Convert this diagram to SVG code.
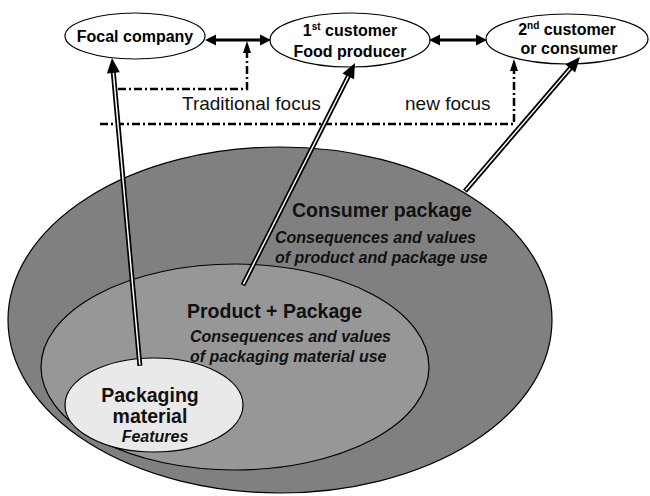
<svg xmlns="http://www.w3.org/2000/svg" width="650" height="496" viewBox="0 0 650 496">
  <style>
    .node { fill: #ffffff; stroke: #000; stroke-width: 1.2; }
    .lbl { font-family: "Liberation Sans", Arial, sans-serif; font-weight: bold; font-size: 16px; fill: #000; text-anchor: middle; }
    .head { font-family: "Liberation Sans", Arial, sans-serif; font-weight: bold; font-size: 19.5px; fill: #111; }
    .sub { font-family: "Liberation Sans", Arial, sans-serif; font-weight: bold; font-style: italic; font-size: 16px; fill: #111; }
    .focus { font-family: "Liberation Sans", Arial, sans-serif; font-size: 19px; fill: #111; }
    .dd { fill: none; stroke: #000; stroke-width: 2.5; stroke-dasharray: 8 3 2 3; }
    .link { stroke: #000; stroke-width: 3; fill: none; }
    .shaft-out { stroke: #000; stroke-width: 5; }
    .shaft-in { stroke: #fff; stroke-width: 1.5; }
    .tip { fill: #000; }
  </style>

  <!-- nested package levels -->
  <g id="consumer-package">
    <ellipse cx="280" cy="320" rx="272" ry="173" fill="#808080" stroke="#000" stroke-width="1.2"/>
    <text class="head" x="292" y="217">Consumer package</text>
    <text class="sub" x="275" y="243">Consequences and values</text>
    <text class="sub" x="275" y="263">of product and package use</text>
  </g>

  <g id="product-package">
    <ellipse cx="235" cy="367" rx="194" ry="103" fill="#979797" stroke="#000" stroke-width="1.2"/>
    <text class="head" x="187" y="318">Product + Package</text>
    <text class="sub" x="190" y="342">Consequences and values</text>
    <text class="sub" x="190" y="362">of packaging material use</text>
  </g>

  <g id="packaging-material">
    <ellipse cx="154" cy="405" rx="89" ry="47" fill="#e9e9e9" stroke="#000" stroke-width="1.2"/>
    <text class="head" x="150" y="402" text-anchor="middle">Packaging</text>
    <text class="head" x="150" y="423" text-anchor="middle">material</text>
    <text class="sub" x="155" y="442" text-anchor="middle">Features</text>
  </g>

  <!-- supply chain actors -->
  <g id="focal-company">
    <ellipse class="node" cx="135" cy="36" rx="70" ry="23"/>
    <text class="lbl" x="135" y="42">Focal company</text>
  </g>

  <g id="first-customer">
    <ellipse class="node" cx="350" cy="40" rx="80" ry="27"/>
    <text class="lbl" x="350" y="36">1<tspan font-size="10" dy="-6">st</tspan><tspan dy="6"> customer</tspan></text>
    <text class="lbl" x="350" y="57">Food producer</text>
  </g>

  <g id="second-customer">
    <ellipse class="node" cx="567" cy="39" rx="81" ry="25"/>
    <text class="lbl" x="567" y="35">2<tspan font-size="10" dy="-6">nd</tspan><tspan dy="6"> customer</tspan></text>
    <text class="lbl" x="569" y="54">or consumer</text>
  </g>

  <!-- focus labels -->
  <text class="focus" x="182" y="110">Traditional focus</text>
  <text class="focus" x="405" y="110">new focus</text>

  <g id="connectors">
    <!-- relations between actors -->
    <line class="link" x1="214" y1="40" x2="262" y2="40"/>
    <polygon class="tip" points="205,40 216,34.5 216,45.5"/>
    <polygon class="tip" points="271,40 260,34.5 260,45.5"/>

    <line class="link" x1="438" y1="40" x2="478" y2="40"/>
    <polygon class="tip" points="429,40 440,34.5 440,45.5"/>
    <polygon class="tip" points="487,40 476,34.5 476,45.5"/>

    <!-- traditional focus -->
    <polyline class="dd" points="118,89 247,89 247,52"/>
    <polygon class="tip" points="247,41 243,53 251,53"/>

    <!-- new focus -->
    <polyline class="dd" points="100,124 514,124 514,70"/>
    <polygon class="tip" points="514,59 510,71 518,71"/>

    <!-- value links: packaging material -> focal company -->
    <g transform="translate(112,58) rotate(84.82)">
      <line class="shaft-out" x1="13" y1="0" x2="309" y2="0"/>
      <line class="shaft-in" x1="14" y1="0" x2="308" y2="0"/>
      <polygon class="tip" points="0,0 15,-6.5 15,6.5"/>
    </g>

    <!-- product + package -> 1st customer -->
    <g transform="translate(355,63) rotate(116.77)">
      <line class="shaft-out" x1="13" y1="0" x2="248.7" y2="0"/>
      <line class="shaft-in" x1="14" y1="0" x2="247.7" y2="0"/>
      <polygon class="tip" points="0,0 15,-6.5 15,6.5"/>
    </g>

    <!-- consumer package -> 2nd customer -->
    <g transform="translate(580,57) rotate(130.64)">
      <line class="shaft-out" x1="13" y1="0" x2="176.6" y2="0"/>
      <line class="shaft-in" x1="14" y1="0" x2="175.6" y2="0"/>
      <polygon class="tip" points="0,0 15,-6.5 15,6.5"/>
    </g>
  </g>
</svg>
